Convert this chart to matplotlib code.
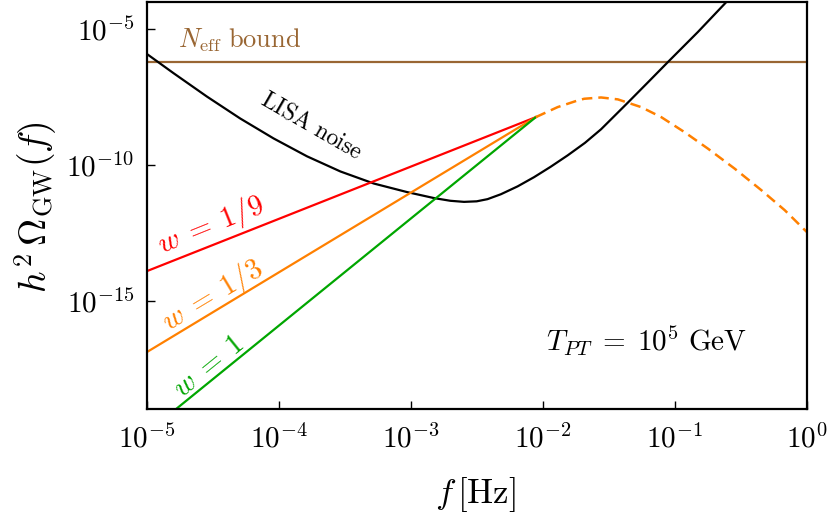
import numpy as np
import matplotlib
matplotlib.use("Agg")
import matplotlib.pyplot as plt

plt.rcParams['mathtext.fontset'] = 'cm'
plt.rcParams['font.family'] = 'serif'
plt.rcParams['font.serif'] = ['DejaVu Serif']

# ---- data ----
neff_bound = 10**-6.24

red_f = [1e-5, 10**-2.052]
red_y = [10**-13.92, 10**-8.253]
orange_f = [1e-5, 10**-2.052]
orange_y = [10**-16.90, 10**-8.253]
green_f = [10**-4.78, 10**-2.052]
green_y = [1e-19, 10**-8.253]

dash_logf = [-2.052, -1.887, -1.735, -1.685, -1.558, -1.431, -1.406, -1.254, -1.102, -0.926,
             -0.748, -0.546, -0.343, -0.166, 0.0]
dash_logy = [-8.253, -7.885, -7.640, -7.577, -7.530, -7.600, -7.640, -7.885, -8.253, -8.804,
             -9.413, -10.147, -10.943, -11.678, -12.474]

lisa_logf = [-5.00, -4.798, -4.544, -4.292, -4.039, -3.785, -3.532, -3.279, -3.026, -2.824,
             -2.70, -2.596, -2.50, -2.418, -2.317, -2.19, -2.065, -1.94, -1.811, -1.68,
             -1.558, -1.355, -1.20, -1.052, -0.824, -0.609]
lisa_logy = [-5.925, -6.632, -7.496, -8.302, -9.036, -9.696, -10.253, -10.696, -11.012, -11.23,
             -11.33, -11.37, -11.35, -11.27, -11.09, -10.80, -10.46, -10.08, -9.66, -9.20,
             -8.70, -7.72, -6.96, -6.23, -5.12, -4.02]

xticks = [1e-5, 1e-4, 1e-3, 1e-2, 1e-1, 1e0]
xticklabels = [r'$10^{-5}$', r'$10^{-4}$', r'$10^{-3}$', r'$10^{-2}$', r'$10^{-1}$', r'$10^{0}$']
yticks = [1e-15, 1e-10, 1e-5]
yticklabels = [r'$10^{-15}$', r'$10^{-10}$', r'$10^{-5}$']

BROWN = '#996633'
RED = '#ff0000'
ORANGE = '#ff8000'
GREEN = '#00a600'

fig = plt.figure(figsize=(8.32, 5.18), dpi=100)
ax = fig.add_axes([146.7/832, 1-409.3/518, (806.7-146.7)/832, (409.3-1.5)/518])
ax.set_xscale('log')
ax.set_yscale('log')
ax.set_xlim(1e-5, 1e0)
ax.set_ylim(1e-19, 1e-4)

ax.axhline(neff_bound, color=BROWN, lw=1.6)
ax.plot(10**np.array(lisa_logf), 10**np.array(lisa_logy), color='black', lw=1.6,
        solid_joinstyle='round')
ax.plot(red_f, red_y, color=RED, lw=1.6)
ax.plot(orange_f, orange_y, color=ORANGE, lw=1.6)
ax.plot(green_f, green_y, color=GREEN, lw=1.6)
ax.plot(10**np.array(dash_logf), 10**np.array(dash_logy), color=ORANGE, lw=1.8,
        ls=(0, (4.2, 2.4)))

ax.set_xticks(xticks)
ax.set_xticklabels(xticklabels)
ax.set_yticks(yticks)
ax.set_yticklabels(yticklabels)
ax.minorticks_off()
ax.tick_params(which='major', direction='in', length=6, width=1, labelsize=21)
ax.tick_params(axis='x', pad=11)
ax.tick_params(axis='y', pad=9)
for s in ax.spines.values():
    s.set_linewidth(1.6)

def place(px, py, text, **kw):
    fig.text(px/832, 1-py/518, text, ha='center', va='center', **kw)

place(475, 495, r'$f\,[\mathrm{Hz}]$', fontsize=25)
place(36, 207, r'$h^2\,\Omega_{\mathrm{GW}}(f)$', fontsize=27, rotation=90)
place(240, 40, r'$N_{\mathrm{eff}}\ \mathrm{bound}$', fontsize=19, color=BROWN)
place(312, 126, r'$\mathrm{LISA\ noise}$', fontsize=17, rotation=-30)
place(647, 341, r'$T_{PT}\;=\;10^5\ \mathrm{GeV}$', fontsize=21)
place(211, 225, r'$w\;=\;1/9$', fontsize=21, color=RED, rotation=22)
place(212, 295, r'$w\;=\;1/3$', fontsize=21, color=ORANGE, rotation=31)
place(209, 366, r'$w\;=\;1$', fontsize=21, color=GREEN, rotation=39)

fig.savefig('out.png', dpi=100)
